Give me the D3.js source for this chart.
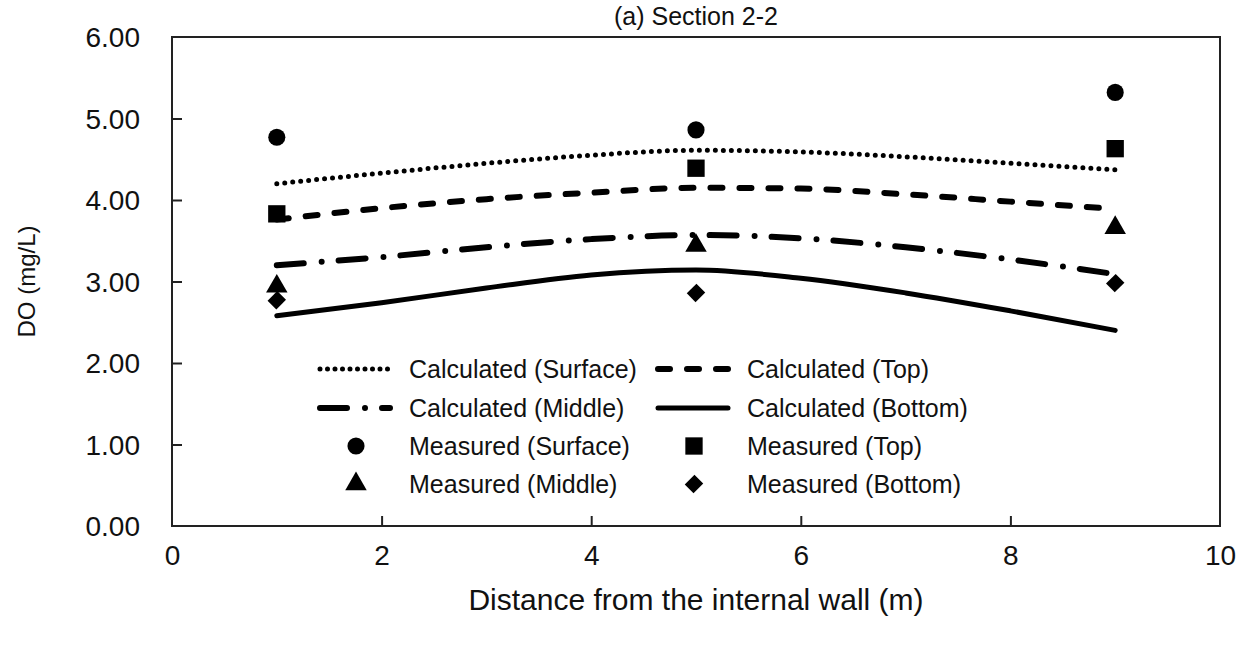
<!DOCTYPE html>
<html>
<head>
<meta charset="utf-8">
<script src="https://d3js.org/d3.v7.min.js"></script>
<style>
  body { margin: 0; background: #fff; }
  text { font-family: "Liberation Sans", Arial, sans-serif; fill: #111; }
</style>
</head>
<body>
<div id="chart"></div>
<script>
// distances (m)
const calcX = [1, 2, 3, 4, 5, 6, 7, 8, 9];
const calcSurface = [4.20, 4.33, 4.45, 4.55, 4.61, 4.59, 4.53, 4.45, 4.37];
const calcTop     = [3.76, 3.90, 4.01, 4.09, 4.15, 4.14, 4.07, 3.98, 3.89];
const calcMiddle  = [3.20, 3.30, 3.42, 3.52, 3.57, 3.53, 3.42, 3.27, 3.09];
const calcBottom  = [2.58, 2.74, 2.92, 3.08, 3.14, 3.04, 2.86, 2.64, 2.40];

const measX = [1, 5, 9];
const measSurface = [4.77, 4.86, 5.32];
const measTop     = [3.83, 4.39, 4.63];
const measMiddle  = [2.94, 3.44, 3.66];
const measBottom  = [2.77, 2.86, 2.98];

const xTicks = [0, 2, 4, 6, 8, 10];
const yTicks = [0, 1, 2, 3, 4, 5, 6];

const W = 1242, H = 648;
const margin = { top: 37, right: 22, bottom: 122, left: 172 };
const width = W - margin.left - margin.right,
      height = H - margin.top - margin.bottom;

const svg = d3.select("#chart").append("svg")
  .attr("width", W).attr("height", H);

const g = svg.append("g")
  .attr("transform", "translate(" + margin.left + "," + margin.top + ")");

const x = d3.scaleLinear().domain([0, 10]).range([0, width]);
const y = d3.scaleLinear().domain([0, 6]).range([height, 0]);

// axes, ticks pointing inward
const xAxis = g.append("g")
  .attr("transform", "translate(0," + height + ")")
  .call(d3.axisBottom(x).tickValues(xTicks).tickSizeInner(-10).tickSizeOuter(0).tickPadding(14).tickFormat(d3.format("d")));
const yAxis = g.append("g")
  .call(d3.axisLeft(y).tickValues(yTicks).tickSizeInner(-10).tickSizeOuter(0).tickPadding(32).tickFormat(d3.format(".2f")));

[xAxis, yAxis].forEach(a => {
  a.select(".domain").remove();
  a.selectAll("line").attr("stroke", "#222").attr("stroke-width", 2);
  a.selectAll("text").style("font-size", "28px").attr("fill", "#111");
});
xAxis.selectAll(".tick").filter(d => d === 0 || d === 10).select("line").remove();
yAxis.selectAll(".tick").filter(d => d === 0 || d === 6).select("line").remove();
yAxis.selectAll("text").attr("dy", "0.34em");
xAxis.selectAll("text").attr("dy", "0.9em");

// frame
g.append("rect")
  .attr("x", 0).attr("y", 0).attr("width", width).attr("height", height)
  .attr("fill", "none").attr("stroke", "#222").attr("stroke-width", 2);

// title + labels
svg.append("text")
  .attr("x", margin.left + width / 2).attr("y", 25)
  .attr("text-anchor", "middle").style("font-size", "25px")
  .text("(a) Section 2-2");
svg.append("text")
  .attr("x", margin.left + width / 2).attr("y", 610)
  .attr("text-anchor", "middle").style("font-size", "30px")
  .text("Distance from the internal wall (m)");
svg.append("text")
  .attr("transform", "translate(35," + (margin.top + height / 2) + ") rotate(-90)")
  .attr("text-anchor", "middle").style("font-size", "24px")
  .text("DO (mg/L)");

// line styles
const styles = {
  surface: { width: 5, dash: "0 8" },
  top:     { width: 6, dash: "12 17" },
  middle:  { width: 6, dash: "27 18 0 17" },
  bottom:  { width: 5, dash: null }
};

const line = d3.line()
  .x(d => x(d[0])).y(d => y(d[1]))
  .curve(d3.curveMonotoneX);

const calcSeries = [
  { key: "surface", vals: calcSurface },
  { key: "top", vals: calcTop },
  { key: "middle", vals: calcMiddle },
  { key: "bottom", vals: calcBottom }
];

g.selectAll(".calc")
  .data(calcSeries)
  .enter().append("path")
  .attr("class", "calc")
  .attr("d", s => line(calcX.map((v, i) => [v, s.vals[i]])))
  .attr("fill", "none").attr("stroke", "#000")
  .attr("stroke-width", s => styles[s.key].width)
  .attr("stroke-linecap", "round")
  .attr("stroke-dasharray", s => styles[s.key].dash);

// markers
const symbols = {
  surface: d3.symbol().type(d3.symbolCircle).size(230),
  top: d3.symbol().type(d3.symbolSquare).size(300),
  middle: d3.symbol().type(d3.symbolTriangle).size(200),
  bottom: d3.symbol().type(d3.symbolSquare).size(170)
};
const rot = k => k === "bottom" ? " rotate(45) scale(0.95,1.05)" : "";

const measSeries = [
  { key: "surface", vals: measSurface },
  { key: "top", vals: measTop },
  { key: "middle", vals: measMiddle },
  { key: "bottom", vals: measBottom }
];

measSeries.forEach(s => {
  g.selectAll(".m-" + s.key)
    .data(measX.map((v, i) => [v, s.vals[i]]))
    .enter().append("path")
    .attr("class", "m-" + s.key)
    .attr("transform", d => "translate(" + x(d[0]) + "," + y(d[1]) + ")" + rot(s.key))
    .attr("d", symbols[s.key]())
    .attr("fill", "#000");
});

// legend
const legendItems = [
  { label: "Calculated (Surface)", key: "surface", type: "line", col: 0, row: 0 },
  { label: "Calculated (Top)", key: "top", type: "line", col: 1, row: 0 },
  { label: "Calculated (Middle)", key: "middle", type: "line", col: 0, row: 1 },
  { label: "Calculated (Bottom)", key: "bottom", type: "line", col: 1, row: 1 },
  { label: "Measured (Surface)", key: "surface", type: "mark", col: 0, row: 2 },
  { label: "Measured (Top)", key: "top", type: "mark", col: 1, row: 2 },
  { label: "Measured (Middle)", key: "middle", type: "mark", col: 0, row: 3 },
  { label: "Measured (Bottom)", key: "bottom", type: "mark", col: 1, row: 3 }
];
const colX = [320, 658], rowY = [369, 408, 446, 484];

legendItems.forEach(it => {
  const lx = colX[it.col], ly = rowY[it.row];
  if (it.type === "line") {
    svg.append("line")
      .attr("x1", lx).attr("x2", lx + 70).attr("y1", ly).attr("y2", ly)
      .attr("stroke", "#000")
      .attr("stroke-width", styles[it.key].width)
      .attr("stroke-linecap", "round")
      .attr("stroke-dasharray", it.key === "surface" ? "0 7.5" : styles[it.key].dash);
  } else {
    svg.append("path")
      .attr("transform", "translate(" + (lx + 36) + "," + ly + ")" + rot(it.key))
      .attr("d", symbols[it.key]())
      .attr("fill", "#000");
  }
  svg.append("text")
    .attr("x", lx + 89).attr("y", ly).attr("dy", "0.35em")
    .style("font-size", "25px")
    .text(it.label);
});
</script>
</body>
</html>
